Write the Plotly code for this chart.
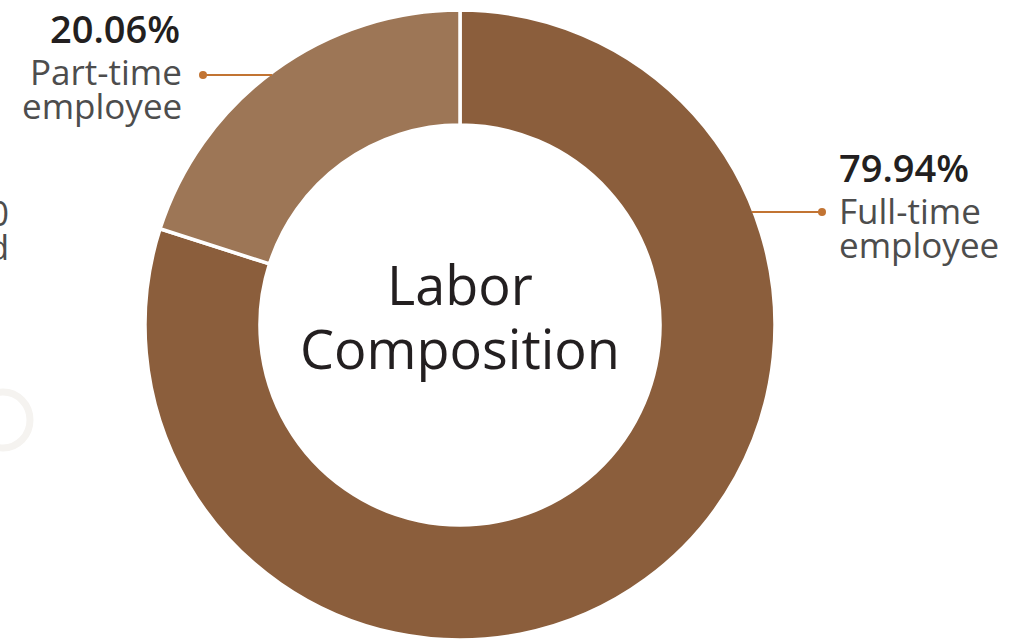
import plotly.graph_objects as go

labels = ["Full-time employee", "Part-time employee"]
values = [79.94, 20.06]
pct_text = ["79.94%", "20.06%"]
label_lines = [["Full-time", "employee"], ["Part-time", "employee"]]
colors = ["#8B5E3C", "#9D7656"]
center_lines = ["Labor", "Composition"]

W, H = 1011, 640
OFF = 0
def px(x): return (x - OFF) / W
def py(y): return min(1.0, max(0.0, 1 - (y - OFF) / H))

FONT = "Open Sans"

fig = go.Figure(go.Pie(
    labels=labels, values=values, hole=0.635, sort=False,
    direction="clockwise", rotation=0, textinfo="none",
    marker=dict(colors=colors, line=dict(color="white", width=3.5)),
    domain=dict(x=[px(145), px(775)], y=[py(640), py(10)]),
    showlegend=False, hoverinfo="label+percent",
))

ann = []
def add(x, y, text, size, color, anchor, weight=400):
    ann.append(dict(x=px(x), y=py(y), xref="paper", yref="paper", text=text,
                    showarrow=False, font=dict(family=FONT, size=size, color=color, weight=weight),
                    xanchor=anchor, yanchor="middle"))

# center title
add(460, 284, center_lines[0], 54, "#231F20", "center")
add(460, 348, center_lines[1], 54, "#231F20", "center")

# Full-time label (right)
add(837, 167, pct_text[0], 38, "#231F20", "left", 600)
add(837, 210, label_lines[0][0], 35, "#4D4D4D", "left")
add(837, 244, label_lines[0][1], 35, "#4D4D4D", "left")

# Part-time label (left)
add(182, 28, pct_text[1], 38, "#231F20", "right", 600)
add(184, 71, label_lines[1][0], 35, "#4D4D4D", "right")
add(184, 105, label_lines[1][1], 35, "#4D4D4D", "right")

# clipped text from neighbouring panel at left edge
add(11, 213, "20", 35, "#4D4D4D", "right")
add(11, 246, "used", 35, "#4D4D4D", "right")

line_col = "#C27433"
def hline(x0, x1, y):
    return dict(type="line", xref="paper", yref="paper", x0=px(x0), y0=py(y), x1=px(x1), y1=py(y),
                line=dict(color=line_col, width=2))
def dot(x, y, r=4):
    return dict(type="circle", xref="paper", yref="paper", x0=px(x - r), y0=py(y + r), x1=px(x + r), y1=py(y - r),
                fillcolor=line_col, line=dict(color=line_col, width=0))

shapes = [
    hline(752, 822, 212), dot(822, 212),
    hline(203, 272, 75), dot(203, 75),
    dict(type="circle", xref="paper", yref="paper", x0=-24 / W, y0=1 - 448 / H, x1=30 / W, y1=1 - 392 / H,
         line=dict(color="#F5F3F0", width=7), layer="below"),
]

fig.update_layout(
    width=W, height=H, margin=dict(l=0, r=0, t=0, b=0),
    paper_bgcolor="white", plot_bgcolor="white",
    annotations=ann, shapes=shapes,
)
fig.write_html("out.html", config={"displayModeBar": False},
               post_script="document.body.style.margin='0';")
